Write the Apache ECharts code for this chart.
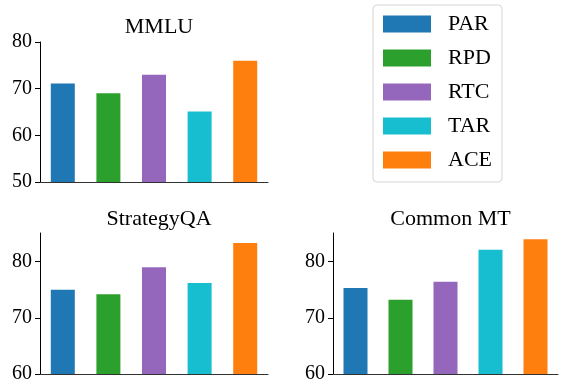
<!DOCTYPE html>
<html>
<head>
<meta charset="utf-8">
<script src="https://cdn.jsdelivr.net/npm/echarts@6/dist/echarts.min.js"></script>
<style>
  html, body { margin: 0; padding: 0; background: #fff; }
  #main { width: 563px; height: 386px; }
</style>
</head>
<body>
<div id="main"></div>
<script>
// methods / categories
var methods = ['PAR', 'RPD', 'RTC', 'TAR', 'ACE'];
var colors = ['#1f77b4', '#2ca02c', '#9467bd', '#17becf', '#ff7f0e'];

// scores per benchmark
var mmlu = [71.1, 69.0, 73.0, 65.1, 76.0];
var strategyQA = [75.0, 74.2, 79.0, 76.2, 83.3];
var commonMT = [75.3, 73.2, 76.4, 82.1, 84.0];

var panelTitles = ['MMLU', 'StrategyQA', 'Common MT'];
var panelData = [mmlu, strategyQA, commonMT];

// y axis tick labels
var ticksTop = [50, 60, 70, 80];
var ticksBottom = [60, 70, 80];

var font = '"Liberation Serif", "Times New Roman", serif';

var chart = echarts.init(document.getElementById('main'));

var grids = [
  { left: 40, top: 42, width: 228, height: 140 },
  { left: 40, top: 233, width: 228, height: 141 },
  { left: 333, top: 233, width: 225, height: 141 }
];

var xAxes = [], yAxes = [], series = [], titles = [];

for (var g = 0; g < 3; g++) {
  xAxes.push({
    type: 'category',
    gridIndex: g,
    data: methods,
    axisTick: { show: false },
    axisLabel: { show: false },
    axisLine: { lineStyle: { color: '#333', width: 1 } }
  });
  var ticks = g === 0 ? ticksTop : ticksBottom;
  yAxes.push({
    type: 'value',
    gridIndex: g,
    min: g === 0 ? 50 : 60,
    max: g === 0 ? 80 : 85.1,
    splitLine: { show: false },
    axisLine: { show: true, lineStyle: { color: '#000', width: 1 } },
    axisTick: { show: true, length: 5, customValues: ticks, lineStyle: { color: '#000' } },
    axisLabel: {
      customValues: ticks,
      margin: 8,
      fontFamily: font,
      fontSize: 20,
      color: '#000'
    }
  });
  titles.push({
    text: panelTitles[g],
    left: grids[g].left + grids[g].width / 2,
    top: g === 0 ? 11 : 203,
    textAlign: 'center',
    textStyle: { fontFamily: font, fontSize: 22, fontWeight: 'normal', color: '#000' }
  });
  for (var m = 0; m < methods.length; m++) {
    var d = methods.map(function () { return null; });
    d[m] = panelData[g][m];
    series.push({
      name: methods[m],
      type: 'bar',
      xAxisIndex: g,
      yAxisIndex: g,
      stack: 'g' + g,
      barWidth: 24,
      itemStyle: { color: colors[m] },
      data: d
    });
  }
}

var option = {
  animation: false,
  title: titles,
  grid: grids,
  xAxis: xAxes,
  yAxis: yAxes,
  legend: {
    data: methods,
    orient: 'vertical',
    left: 373,
    top: 5,
    icon: 'rect',
    itemWidth: 48,
    itemHeight: 17,
    itemGap: 12,
    padding: [8, 10, 11, 10],
    borderColor: '#d5d5d5',
    borderWidth: 1,
    borderRadius: 4,
    textStyle: { fontFamily: font, fontSize: 22, color: '#000', padding: [0, 0, 0, 12] }
  },
  series: series
};

chart.setOption(option);
</script>
</body>
</html>
